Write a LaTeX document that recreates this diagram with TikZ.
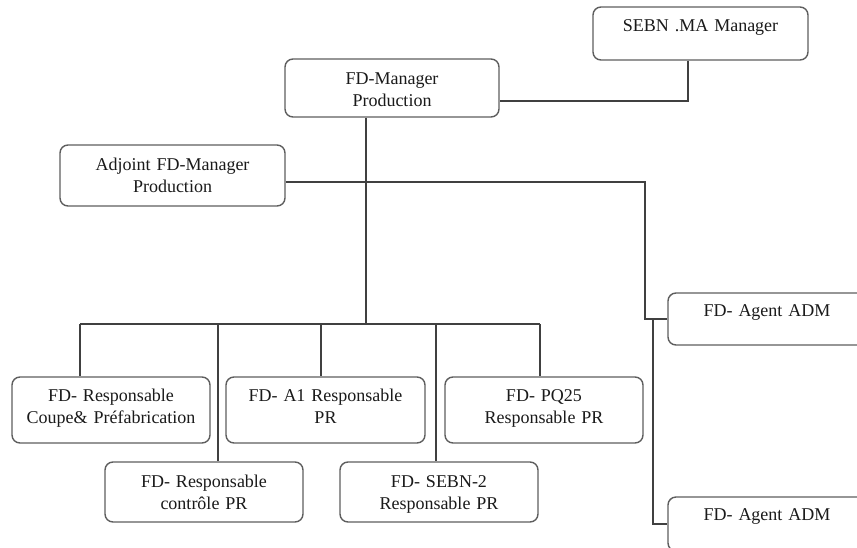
\documentclass[tikz,border=0pt]{standalone}
\usepackage{fontspec}
\setmainfont{Liberation Serif}
\definecolor{boxgray}{HTML}{5E5E5E}
\definecolor{wiregray}{HTML}{404040}
\definecolor{txt}{HTML}{1A1A1A}
\newcommand{\lblfont}{\fontsize{18pt}{22pt}\selectfont}
\tikzset{
  box/.style={draw=boxgray, line width=1.4pt, rounded corners=8pt, fill=white, inner sep=0pt},
  lbl/.style={anchor=base, font=\lblfont, text=txt, align=center, text width=230pt, inner sep=0pt},
  wire/.style={draw=wiregray, line width=1.2pt}
}
\begin{document}
\begin{tikzpicture}[x=1pt,y=-1pt]
\useasboundingbox (0,0) rectangle (857,547);
\clip (0,0) rectangle (857,547);
% boxes
\node[box, minimum width=215pt, minimum height=53pt] (sebn) at (700.5,33.5) {};
\node[box, minimum width=214pt, minimum height=58pt] (fdm) at (392,88) {};
\node[box, minimum width=225pt, minimum height=61pt] (adj) at (172.5,175.5) {};
\node[box, minimum width=198pt, minimum height=66pt] (coupe) at (111,410) {};
\node[box, minimum width=199pt, minimum height=66pt] (a1) at (325.5,410) {};
\node[box, minimum width=198pt, minimum height=66pt] (pq) at (544,410) {};
\node[box, minimum width=198pt, minimum height=60pt] (ctrl) at (204,492) {};
\node[box, minimum width=198pt, minimum height=60pt] (sebn2) at (439,492) {};
\node[box, minimum width=198pt, minimum height=52pt] (ag1) at (767,319) {};
\node[box, minimum width=198pt, minimum height=54pt] (ag2) at (767,524) {};
% labels
\node[lbl] (tsebn) at ([yshift=-25pt]sebn.north) {SEBN .MA Manager};
\node[lbl] (tfdm) at ([yshift=-26pt]fdm.north) {FD-Manager\\Production};
\node[lbl] (tadj) at ([yshift=-26pt]adj.north) {Adjoint FD-Manager\\Production};
\node[lbl] (tcoupe) at ([yshift=-25pt]coupe.north) {FD- Responsable\\Coupe\& Préfabrication};
\node[lbl] (ta1) at ([yshift=-25pt]a1.north) {FD- A1 Responsable\\PR};
\node[lbl] (tpq) at ([yshift=-25pt]pq.north) {FD- PQ25\\Responsable PR};
\node[lbl] (tctrl) at ([yshift=-26pt]ctrl.north) {FD- Responsable\\contrôle PR};
\node[lbl] (tsebn2) at ([yshift=-26pt]sebn2.north) {FD- SEBN-2\\Responsable PR};
\node[lbl] (tag1) at ([yshift=-24pt]ag1.north) {FD- Agent ADM};
\node[lbl] (tag2) at ([yshift=-24pt]ag2.north) {FD- Agent ADM};
% connectors
\coordinate (c1) at (688,101);
\draw[wire] (c1 |- sebn.south) -- (c1) -- (c1 -| fdm.east);
\coordinate (bus) at (366,324);
\draw[wire] (bus |- fdm.south) -- (bus);
\coordinate (d1) at (80,324);
\coordinate (d2) at (218,324);
\coordinate (d3) at (321,324);
\coordinate (d4) at (436,324);
\coordinate (d5) at (540,324);
\draw[wire] (d1) -- (d5);
\draw[wire] (d1) -- (d1 |- coupe.north);
\draw[wire] (d2) -- (d2 |- ctrl.north);
\draw[wire] (d3) -- (d3 |- a1.north);
\draw[wire] (d4) -- (d4 |- sebn2.north);
\draw[wire] (d5) -- (d5 |- pq.north);
\coordinate (e1) at (645,182);
\draw[wire] (e1 -| adj.east) -- (e1) -- (e1 |- ag1.west) -- (ag1.west);
\coordinate (e2) at (653,319);
\draw[wire] (e2) |- (ag2.west);
\end{tikzpicture}
\end{document}
